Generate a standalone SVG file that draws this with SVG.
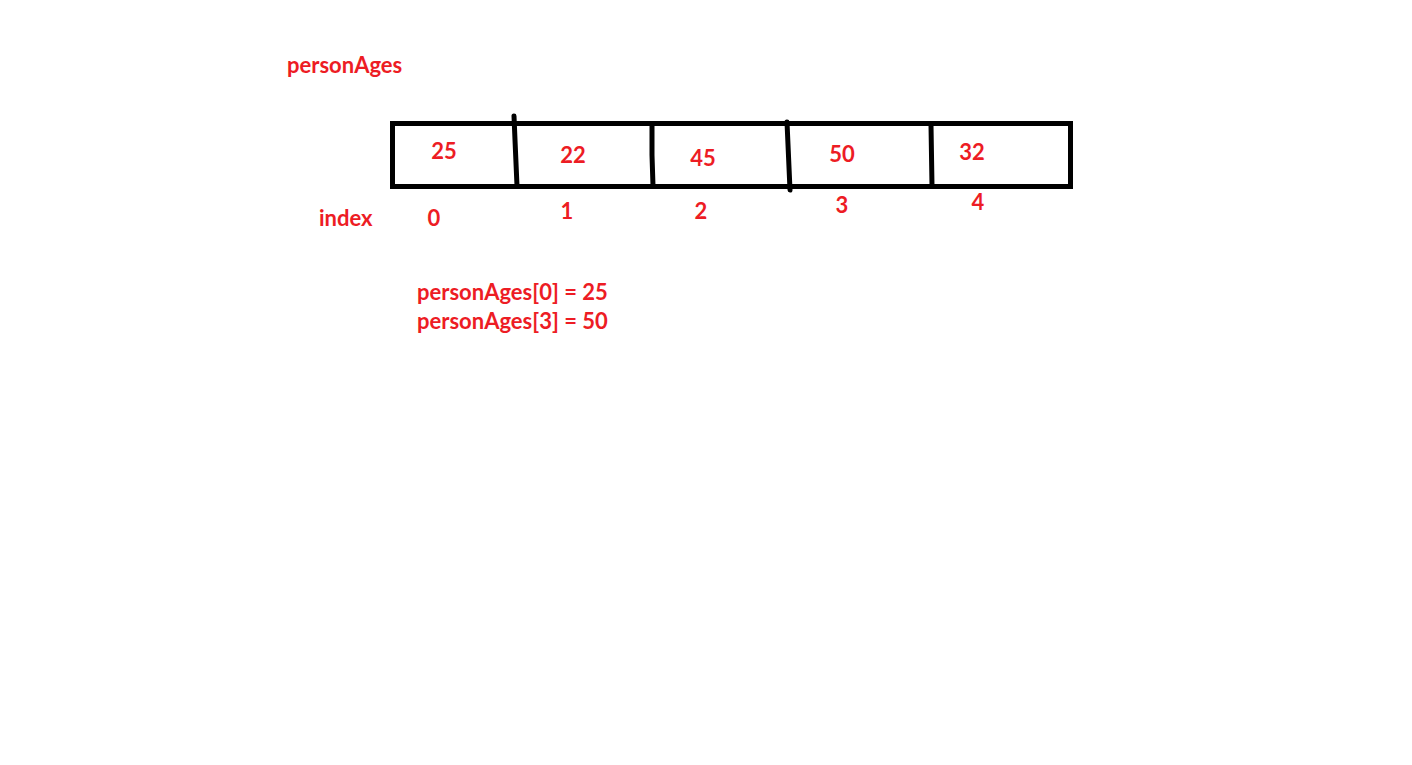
<svg xmlns="http://www.w3.org/2000/svg" width="1412" height="765" viewBox="0 0 1412 765">
<style>
text{font-family:Lato,"Open Sans","Liberation Sans",sans-serif;font-weight:bold;fill:#ED1C24;font-size:22px}
.c{text-anchor:middle}
.ln{stroke:#000;stroke-width:5;fill:none;stroke-linecap:round}
</style>
<rect width="1412" height="765" fill="#fff"/>
<text x="287" y="73">personAges</text>
<g id="array">
<rect x="392.5" y="123.5" width="678" height="63" class="ln" style="stroke-linecap:butt"/>
<path class="ln" d="M514 116 L515 140 L517 186"/>
<path class="ln" d="M652 124 L652 155 L653 186"/>
<path class="ln" d="M787 122 L790 190"/>
<path class="ln" d="M931 125 L932 186"/>
</g>
<g id="values">
<text class="c" x="444" y="159">25</text>
<text class="c" x="573" y="163">22</text>
<text class="c" x="703" y="166">45</text>
<text class="c" x="842" y="162">50</text>
<text class="c" x="972" y="160">32</text>
</g>
<g id="indices">
<text x="319" y="226">index</text>
<text class="c" x="434" y="226">0</text>
<text class="c" x="567" y="219">1</text>
<text class="c" x="701" y="219">2</text>
<text class="c" x="842" y="213">3</text>
<text class="c" x="978" y="210">4</text>
</g>
<g id="examples">
<text x="417" y="300">personAges[0] = 25</text>
<text x="417" y="329">personAges[3] = 50</text>
</g>
</svg>
